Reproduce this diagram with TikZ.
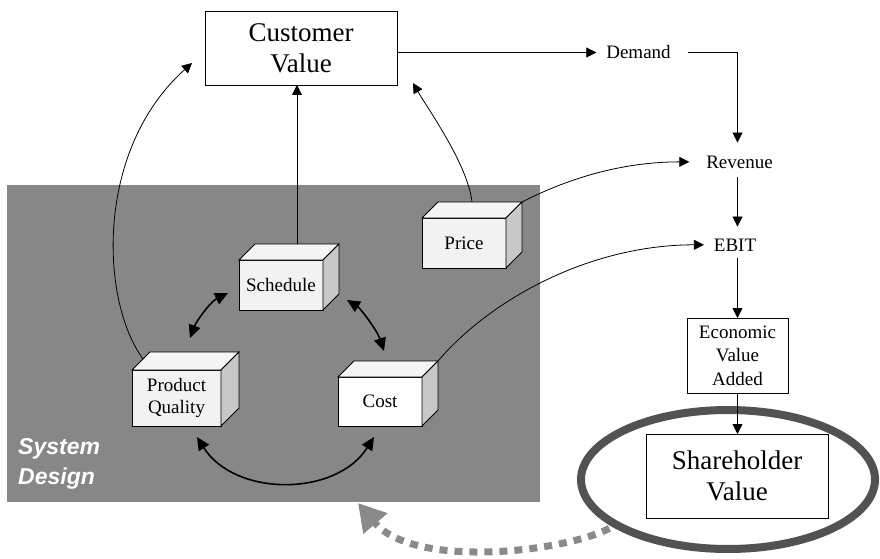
\documentclass[tikz,border=0pt]{standalone}
\usepackage{fontspec}
\setmainfont{Liberation Serif}
\newfontfamily\arialf{Liberation Sans}
\usetikzlibrary{arrows.meta,shapes.geometric,calc}
\definecolor{bgg}{HTML}{878787}
\definecolor{frontc}{HTML}{F2F2F2}
\definecolor{topc}{HTML}{F5F5F5}
\definecolor{sidec}{HTML}{C8C8C8}
\definecolor{ellc}{HTML}{525252}
\definecolor{dotc}{HTML}{8A8A8A}
\newcommand\cubedeco[2]{%
  \filldraw[fill=topc, line width=0.8pt] (#1.north west) -- ++(#2,-#2) -- ([shift={(#2,-#2)}]#1.north east) -- (#1.north east) -- cycle;
  \filldraw[fill=sidec, line width=0.8pt] (#1.north east) -- ++(#2,-#2) -- ([shift={(#2,-#2)}]#1.south east) -- (#1.south east) -- cycle;}
\begin{document}
\begin{tikzpicture}[x=1pt,y=-1pt,
  arr/.style={line width=0.8pt, -{Triangle[length=10pt,width=10pt]}},
  dbl/.style={line width=1.6pt, {Triangle[length=13pt,width=12pt]}-{Triangle[length=13pt,width=12pt]}},
  cube/.style={draw, fill=frontc, line width=0.8pt, inner sep=0pt, outer sep=0pt, align=center, font=\fontsize{19}{22}\selectfont},
  lbl/.style={inner sep=0pt, outer sep=0pt, anchor=base, font=\fontsize{19}{23}\selectfont},
  bigbox/.style={draw, fill=white, line width=0.8pt, align=center, inner sep=0pt, outer sep=0pt, font=\fontsize{27}{31}\selectfont},
  midbox/.style={draw, fill=white, line width=0.8pt, align=center, inner sep=0pt, outer sep=0pt, font=\fontsize{19}{23.5}\selectfont}]
\useasboundingbox (0,0) rectangle (880,559);
\fill[white] (0,0) rectangle (880,559);
% system design area
\fill[bgg] (7,185) rectangle (540,502);
\node[anchor=north west, inner sep=0pt, align=left, text=white, font=\arialf\bfseries\itshape\fontsize{23}{30}\selectfont] (sd) at (18,438) {System\\Design};
% ellipse
\node[draw=ellc, line width=8pt, ellipse, minimum width=294, minimum height=139, inner sep=0pt, outer sep=0pt] (ell) at (728,479.5) {};
% boxes
\node[bigbox, minimum width=192, minimum height=74] (cv) at (301,48) {Customer\\Value};
\node[midbox, minimum width=101, minimum height=75] (eva) at (737.5,355.5) {Economic\\Value\\Added};
\node[bigbox, minimum width=182, minimum height=84] (sv) at (737,476) {Shareholder\\Value};
% text labels
\node[lbl] (demand) at (638.5,59) {Demand};
\node[lbl] (revenue) at (739.5,168) {Revenue};
\node[lbl] (ebit) at (735,251) {EBIT};
% cuboids
\node[cube, minimum width=84, minimum height=50] (price) at (464,243) {Price};
\cubedeco{price}{16}
\node[cube, minimum width=84, minimum height=50] (sched) at (281,285) {Schedule};
\cubedeco{sched}{16}
\node[cube, minimum width=89, minimum height=56] (pq) at (176.5,398) {Product\\Quality};
\cubedeco{pq}{18}
\node[cube, fill=white, minimum width=84, minimum height=49] (cost) at (380,401.5) {Cost};
\cubedeco{cost}{16}
% helper coordinates
\coordinate (stop) at ([shift={(16,-16)}]sched.north);
\coordinate (revtop) at ([yshift=13pt]revenue.north);
\coordinate (rb) at ([yshift=-9pt]revenue.south);
\coordinate (et) at ([yshift=12pt]ebit.north);
\coordinate (eb) at ([yshift=-7pt]ebit.south);
\coordinate (dtip) at (358,503);
% connectors to customer value
\draw[arr] (stop) -- (stop |- cv.south);
\draw[arr] ([shift={(11,-11)}]pq.north west) .. controls +(-43,-59) and +(-97,87) .. ([shift={(-13,-22)}]cv.south west);
\draw[arr] ([shift={(8,-16)}]price.north) .. controls +(-4,-37) and +(15,26) .. ([shift={(16,-2)}]cv.south east);
% value chain
\draw[arr] (cv.east |- demand.west) -- ([xshift=-10pt]demand.west);
\draw[arr] ([xshift=17pt]demand.east) -| (eva.north |- revtop);
\draw[arr] (eva.north |- rb) -- (eva.north |- et);
\draw[arr] (eva.north |- eb) -- (eva.north);
\draw[arr] (eva.south) -- (eva.south |- sv.north);
\draw[arr] ([shift={(16,-16)}]price.north east) .. controls +(43,-22) and +(-70,0) .. ([xshift=-17pt]revenue.west);
\draw[arr] ([shift={(16,-16)}]cost.north east) .. controls +(52,-61) and +(-115,0) .. ([xshift=-10pt]ebit.west);
% trade-off arrows
\draw[dbl] ([shift={(13.5,-32)}]pq.north) .. controls +(6,-16) and +(-18,9) .. ([shift={(-11,8)}]sched.west);
\draw[dbl] ([shift={(24,-10)}]sched.south east) .. controls +(13,8) and +(-7,-21) .. ([shift={(4,-26)}]cost.north);
\draw[dbl] ([shift={(20.5,11)}]pq.south) .. controls +(38,60) and +(-38,60) .. ([shift={(-6,11)}]cost.south);
% feedback dotted arrow
\draw[dotc, line width=7pt, dash pattern=on 8pt off 7pt, -{Triangle[length=27pt,width=30pt]}] ([xshift=-14pt]ell.205) .. controls +(-43,23) and +(57,67) .. (dtip);
\end{tikzpicture}
\end{document}
